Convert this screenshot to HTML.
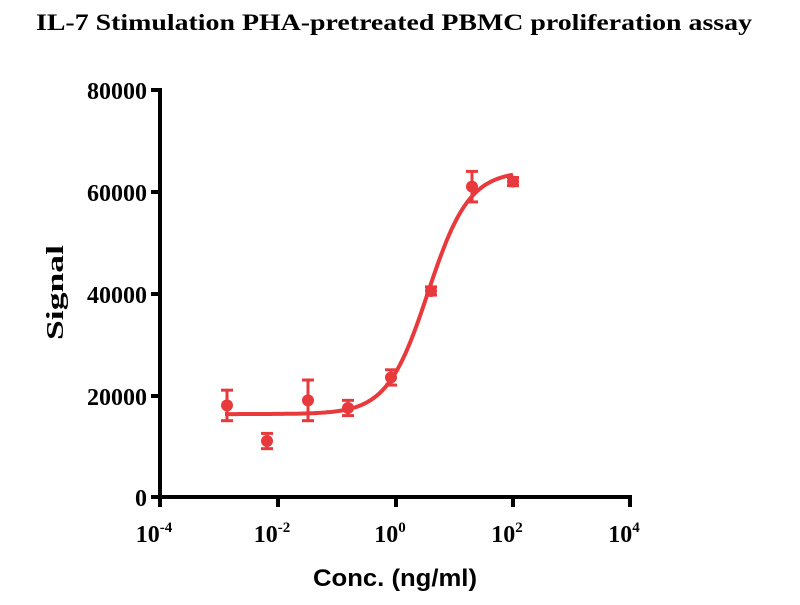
<!DOCTYPE html>
<html><head><style>body{margin:0;background:#fff}</style></head><body>
<svg id="s" width="800" height="600" xmlns="http://www.w3.org/2000/svg">
<text x="36" y="30" textLength="716" lengthAdjust="spacingAndGlyphs" font-family="Liberation Serif" font-weight="bold" font-size="23">IL-7 Stimulation PHA-pretreated PBMC proliferation assay</text>
<g stroke="#000" stroke-width="4" fill="none">
<line x1="160" y1="88" x2="160" y2="499"/>
<line x1="158" y1="497" x2="632" y2="497"/>
<line x1="151" y1="90" x2="160" y2="90"/><line x1="151" y1="192" x2="160" y2="192"/><line x1="151" y1="294" x2="160" y2="294"/><line x1="151" y1="396" x2="160" y2="396"/><line x1="151" y1="497" x2="160" y2="497"/>
<line x1="160" y1="497" x2="160" y2="507"/><line x1="278" y1="497" x2="278" y2="507"/><line x1="396" y1="497" x2="396" y2="507"/><line x1="513" y1="497" x2="513" y2="507"/><line x1="630" y1="497" x2="630" y2="507"/>
</g>
<g font-family="Liberation Serif" font-weight="bold" font-size="24" text-anchor="end">
<text x="147" y="99">80000</text><text x="147" y="201">60000</text><text x="147" y="303">40000</text><text x="147" y="405">20000</text><text x="147" y="506">0</text>
</g>
<g font-family="Liberation Serif" font-weight="bold" font-size="24" text-anchor="middle">
<text x="154" y="542">10<tspan font-size="15" dy="-10">-4</tspan></text>
<text x="272" y="542">10<tspan font-size="15" dy="-10">-2</tspan></text>
<text x="390" y="542">10<tspan font-size="15" dy="-10">0</tspan></text>
<text x="507" y="542">10<tspan font-size="15" dy="-10">2</tspan></text>
<text x="624" y="542">10<tspan font-size="15" dy="-10">4</tspan></text>
</g>
<text transform="translate(63,340) rotate(-90)" textLength="95" lengthAdjust="spacingAndGlyphs" font-family="Liberation Serif" font-weight="bold" font-size="24">Signal</text>
<text x="313" y="586" textLength="164" lengthAdjust="spacingAndGlyphs" font-family="Liberation Sans" font-weight="bold" font-size="24">Conc. (ng/ml)</text>
<g id="d" stroke="#e8393c" fill="#e8393c"></g>
</svg>
<script>
var g=document.getElementById('d'),h='';
function Y(v){return 497-v*407/80000}
var p='';
for(var x=225;x<=514;x+=2){var v=16300+47800/(1+Math.exp((428-x)*0.0488));p+=(p?'L':'M')+x+','+Y(v).toFixed(1);}
h+='<path d="'+p+'" fill="none" stroke-width="4"/>';
var pts=[[227,18000,3000],[267,11000,1500],[308,19000,4000],[348,17500,1500],[391,23500,1500],[431,40500,800],[472,61000,3000],[513,62000,800]];
pts.forEach(function(q){var y=Y(q[1]),e=q[2]*407/80000;h+='<line x1="'+q[0]+'" y1="'+(y-e)+'" x2="'+q[0]+'" y2="'+(y+e)+'" stroke-width="3"/><line x1="'+(q[0]-6)+'" y1="'+(y-e)+'" x2="'+(q[0]+6)+'" y2="'+(y-e)+'" stroke-width="3"/><line x1="'+(q[0]-6)+'" y1="'+(y+e)+'" x2="'+(q[0]+6)+'" y2="'+(y+e)+'" stroke-width="3"/><circle cx="'+q[0]+'" cy="'+y+'" r="6" stroke="none"/>';});
g.innerHTML=h;
</script>
</body></html>
